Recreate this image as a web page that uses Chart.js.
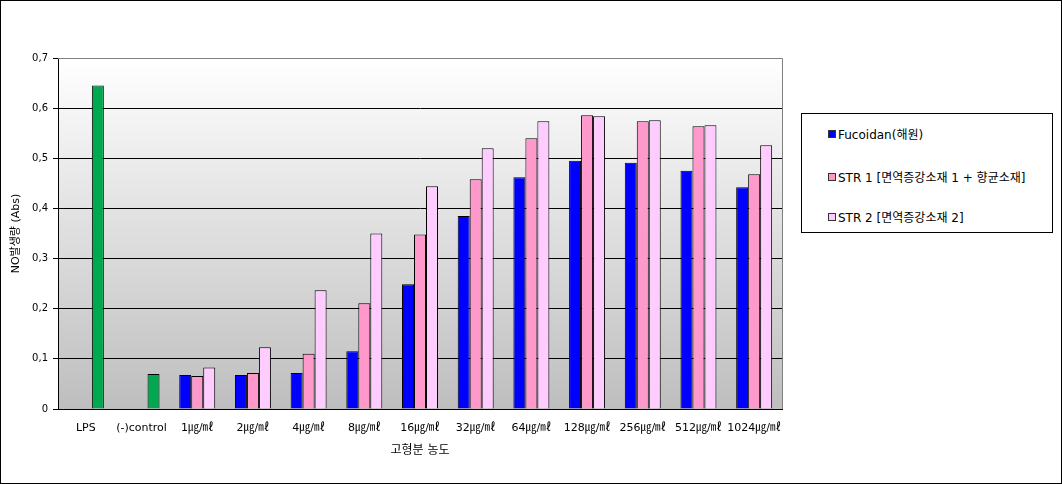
<!DOCTYPE html>
<html>
<head>
<meta charset="utf-8">
<script src="https://cdn.jsdelivr.net/npm/chart.js@4"></script>
<style>
  body { margin: 0; background: #fff; }
  #wrap { position: relative; width: 1062px; height: 484px; }
  #myChart { position: absolute; left: 0; top: 0; }
  #frame { position: absolute; left: 0; top: 0; width: 1062px; height: 484px; box-sizing: border-box; border: 1px solid #000; pointer-events: none; }
  #legend { position: absolute; left: 801px; top: 113px; width: 252px; height: 120px; box-sizing: border-box; border: 1px solid #000; background: #fff;
            font: 12px "DejaVu Sans", "Noto Sans CJK KR", sans-serif; color: #000; }
  .item { position: absolute; left: 26px; white-space: nowrap; }
  .item span.box { display: inline-block; width: 6px; height: 6px; border: 1px solid #333; margin-right: 2px; vertical-align: 1px; }
</style>
</head>
<body>
<div id="wrap">
  <canvas id="myChart" width="1062" height="484"></canvas>
  <div id="legend"></div>
  <div id="frame"></div>
</div>
<script>
// categories (x axis)
const categories = ['LPS', '(-)control', '1㎍/㎖', '2㎍/㎖', '4㎍/㎖', '8㎍/㎖', '16㎍/㎖',
    '32㎍/㎖', '64㎍/㎖', '128㎍/㎖', '256㎍/㎖', '512㎍/㎖', '1024㎍/㎖'];
const seriesNames = ['Fucoidan(해원)', 'STR 1 [면역증강소재 1 + 향균소재]', 'STR 2 [면역증강소재 2]'];
// values (Abs)
const fucoidan = [null, null, 0.068, 0.068, 0.072, 0.115, 0.249, 0.385, 0.462, 0.495, 0.491, 0.475, 0.442];
const str1 = [null, null, 0.066, 0.072, 0.110, 0.211, 0.348, 0.458, 0.540, 0.586, 0.574, 0.564, 0.468];
const str2 = [0.645, 0.070, 0.083, 0.123, 0.237, 0.350, 0.444, 0.520, 0.574, 0.584, 0.576, 0.566, 0.526];
const yTicks = [0, 0.1, 0.2, 0.3, 0.4, 0.5, 0.6, 0.7];

const colors = ['#0000FF', '#FF99CC', '#FFCCFF'];
const controlColor = '#00A84F';
const baseFont = '"DejaVu Sans", "Noto Sans CJK KR", sans-serif';

// plot area gradient + grey top/right border
const plotBg = {
    id: 'plotBg',
    beforeDraw(chart) {
        const {ctx, chartArea: a} = chart;
        const g = ctx.createLinearGradient(0, a.top, 0, a.bottom);
        g.addColorStop(0, '#FFFFFF');
        g.addColorStop(1, '#BEBEBE');
        ctx.save();
        ctx.fillStyle = g;
        ctx.fillRect(a.left, a.top, a.right - a.left, a.bottom - a.top);
        ctx.restore();
    },
    afterDraw(chart) {
        const {ctx, chartArea: a} = chart;
        ctx.save();
        ctx.strokeStyle = '#808080';
        ctx.lineWidth = 1;
        ctx.beginPath();
        ctx.moveTo(a.left, a.top + 0.5);
        ctx.lineTo(a.right + 0.5, a.top + 0.5);
        ctx.lineTo(a.right + 0.5, a.bottom);
        ctx.stroke();
        ctx.restore();
    }
};

function createChart() {
    var ctx = document.getElementById('myChart').getContext('2d');
    var str2Colors = str2.map((v, i) => (fucoidan[i] === null ? controlColor : colors[2]));
    var myChart = new Chart(ctx, {
        type: 'bar',
        data: {
            labels: categories,
            datasets: [{
                label: seriesNames[0],
                data: fucoidan,
                backgroundColor: colors[0],
                borderColor: '#000',
                borderWidth: 1
            }, {
                label: seriesNames[1],
                data: str1,
                backgroundColor: colors[1],
                borderColor: '#000',
                borderWidth: 1
            }, {
                label: seriesNames[2],
                data: str2,
                backgroundColor: str2Colors,
                borderColor: '#000',
                borderWidth: 1
            }]
        },
        options: {
            responsive: false,
            animation: false,
            devicePixelRatio: 1,
            layout: { padding: { left: 0, right: 280, top: 58, bottom: 0 } },
            datasets: { bar: { categoryPercentage: 0.646, barPercentage: 1.0 } },
            plugins: {
                legend: { display: false },
                tooltip: { enabled: false }
            },
            scales: {
                x: {
                    grid: { display: false, drawTicks: false },
                    border: { color: '#000', width: 1 },
                    ticks: { color: '#000', font: { family: baseFont, size: 11 }, padding: 13, maxRotation: 0, autoSkip: false },
                    title: { display: true, text: '고형분 농도', color: '#000', font: { family: baseFont, size: 12 }, padding: { top: 0, bottom: 26 } },
                    afterFit(scale) { scale.height = 75; }
                },
                y: {
                    min: 0,
                    max: 0.7,
                    afterBuildTicks(scale) { scale.ticks = yTicks.map(v => ({ value: v })); },
                    grid: {
                        color: c => (c.tick && c.tick.value === 0.7 ? '#808080' : '#000'),
                        tickColor: '#000',
                        tickLength: 5
                    },
                    border: { color: '#000', width: 1 },
                    ticks: {
                        color: '#000',
                        padding: 5,
                        font: { family: baseFont, size: 10 },
                        callback: v => String(v).replace('.', ',')
                    },
                    title: { display: true, text: 'NO발생량 (Abs)', color: '#000', font: { family: baseFont, size: 11 }, padding: { top: 10, bottom: 0 } },
                    afterFit(scale) { scale.width = 58; }
                }
            }
        },
        plugins: [plotBg]
    });

    // legend box
    var legend = document.getElementById('legend');
    var rowTops = [11, 54, 94];
    seriesNames.forEach(function (name, i) {
        var d = document.createElement('div');
        d.className = 'item';
        d.style.top = rowTops[i] + 'px';
        var b = document.createElement('span');
        b.className = 'box';
        b.style.background = colors[i];
        d.appendChild(b);
        d.appendChild(document.createTextNode(name));
        legend.appendChild(d);
    });
}

document.addEventListener('DOMContentLoaded', function () {
    createChart();
});
</script>
</body>
</html>
